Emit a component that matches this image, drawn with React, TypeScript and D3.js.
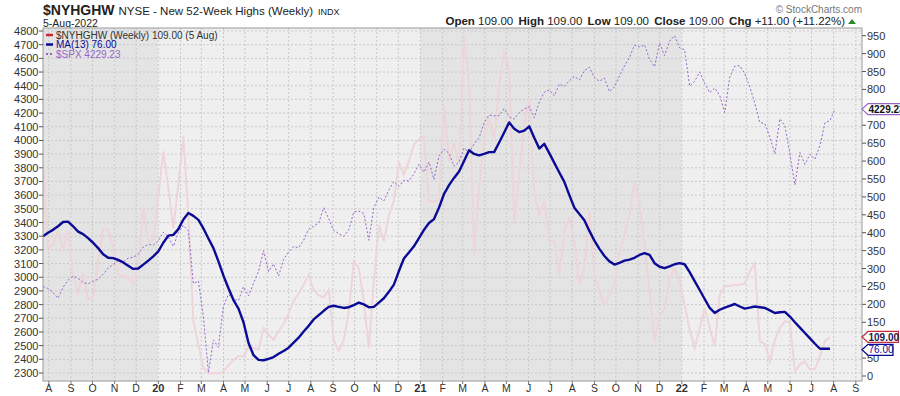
import * as d3 from 'd3'

// weekly closes, first bar = week ending 2 Aug 2019
const firstWeek = new Date(2019, 7, 2)
const lastWeek = new Date(2022, 7, 5)

const spx = [
  2932.05, 2918.65, 2888.68, 2847.11, 2926.46, 2978.71, 3007.39, 2992.07, 2961.79, 2952.01,
  2970.27, 2986.2, 3022.55, 3066.91, 3093.08, 3120.46, 3110.29, 3140.98, 3145.91, 3168.8,
  3221.22, 3240.02,
  3234.85, 3265.35, 3329.62, 3295.47, 3225.52, 3327.71, 3380.16, 3337.75, 2954.22, 2972.37,
  2711.02, 2304.92, 2541.47, 2488.65, 2789.82, 2874.56, 2836.74, 2830.71, 2929.8, 2863.7,
  2955.45, 3044.31, 3193.93, 3041.31, 3097.74, 3009.05, 3130.01, 3185.04, 3224.73, 3215.63,
  3271.12, 3351.28, 3372.85, 3397.16, 3508.01, 3426.96, 3340.97, 3319.47, 3298.46, 3348.44,
  3477.13, 3483.81, 3465.39, 3269.96, 3509.44, 3585.15, 3557.54, 3638.35, 3699.12, 3663.46,
  3709.41, 3703.06, 3756.07,
  3824.68, 3768.25, 3841.47, 3714.24, 3886.83, 3934.83, 3906.71, 3811.15, 3841.94, 3943.34,
  3913.1, 3974.54, 4019.87, 4128.8, 4185.47, 4180.17, 4181.17, 4232.6, 4173.85, 4155.86,
  4204.11, 4229.89, 4247.44, 4166.45, 4280.7, 4352.34, 4369.55, 4327.16, 4411.79, 4395.26,
  4436.52, 4468.0, 4441.67, 4509.37, 4535.43, 4458.58, 4432.99, 4455.48, 4357.04, 4391.34,
  4471.37, 4544.9, 4605.38, 4697.53, 4682.85, 4697.96, 4594.62, 4538.43, 4712.02, 4620.64,
  4725.79, 4766.18,
  4677.03, 4662.85, 4397.94, 4431.85, 4500.53, 4418.64, 4348.87, 4384.65, 4328.87, 4204.31,
  4463.12, 4543.06, 4545.86, 4488.28, 4392.59, 4271.78, 4131.93, 4123.34, 4023.89, 3901.36,
  4158.24, 4108.54, 3900.86, 3674.84, 3911.74, 3825.33, 3899.38, 3863.16, 3961.63, 4130.29,
  4145.19, 4229.23,
]

const nyhghw = [
  600, 357, 366, 404, 353, 404, 283, 232, 288, 213,
  222, 320, 408, 408, 360, 283, 278, 275, 255, 310,
  469, 376, 381, 500, 627, 525, 413, 534, 669, 450,
  153, 87, 22, 8, 8, 8, 12, 30, 45, 55,
  55, 80, 78, 73, 134, 115, 101, 125, 145, 175,
  210, 230, 255, 283, 240, 225, 220, 241, 100, 70,
  100, 180, 320, 301, 208, 78, 264, 422, 376, 450,
  488, 595, 562, 600, 646, 660, 669, 488, 488, 490,
  753, 600, 650, 590, 948, 822, 339, 525, 664, 720,
  664, 809, 911, 850, 427, 562, 700, 776, 515, 450,
  488, 380, 376, 283, 404, 441, 376, 255, 301, 460,
  283, 236, 199, 227, 255, 348, 394, 450, 543, 478,
  367, 236, 97, 170, 185, 270, 301, 264, 199, 130,
  78, 134, 190, 134, 83, 227, 250, 252, 255, 255,
  258, 292, 315, 97, 90, 41, 101, 134, 153, 150,
  13, 32, 41, 18, 20, 55, 98, 109,
]

const ma13 = [
  390, 400, 408, 418, 430, 431, 418, 403, 396, 385,
  372, 357, 340, 330, 329, 324, 317, 308, 299, 300,
  311, 322, 334, 348, 372, 392, 394, 410, 437, 455,
  447, 436, 412, 384, 357, 320, 280, 245, 212, 188,
  150, 92, 58, 45, 44, 48, 53, 62, 70, 79,
  93, 107, 124, 140, 158, 170, 182, 193, 196, 193,
  190, 192, 198, 205, 200, 192, 193, 205, 217, 235,
  255, 293, 328, 345, 362, 385, 408, 427, 438, 470,
  508, 533, 553, 571, 600, 630, 620, 616, 620, 625,
  625, 652, 680, 708, 690, 681, 685, 697, 665, 635,
  648, 622, 595, 568, 542, 505, 470, 452, 435, 405,
  378, 355, 335, 320, 311, 316, 322, 325, 330, 338,
  343, 338, 315, 305, 301, 306, 312, 315, 312, 290,
  265, 240, 215, 190, 176, 185, 191, 196, 201, 194,
  188, 191, 194, 192, 190, 183, 176, 178, 179, 166,
  150, 135, 120, 105, 90, 76, 76, 76,
]

const leftTicks = d3.range(2300, 4801, 100)
const rightTicks = d3.range(0, 951, 50)
const monthLetters = ['J', 'F', 'M', 'A', 'M', 'J', 'J', 'A', 'S', 'O', 'N', 'D']

const font = 'Liberation Sans, Arial, sans-serif'
const pinkCol = '#eed5d9'
const navyCol = '#0a0a96'
const purpleCol = '#9464c8'
const redCol = '#c8283c'

function Tag({ y, text, stroke, color, bold, x1 }: { y: number; text: string; stroke: string; color: string; bold?: boolean; x1: number }) {
  const x0 = 862
  return (
    <g>
      <path
        d={`M${x0},${y} L${x0 + 6},${y - 5.5} L${x1},${y - 5.5} L${x1},${y + 5.5} L${x0 + 6},${y + 5.5} Z`}
        fill="#fff"
        stroke={stroke}
        strokeWidth={1.2}
      />
      <text x={x0 + 6.5} y={y + 3.6} fontSize={10} fontWeight={bold ? 'bold' : 'normal'} fill={color} fontFamily={font}>
        {text}
      </text>
    </g>
  )
}

export default function App() {
  const left = 43
  const right = 862
  const top = 28
  const bottom = 381

  const dates = spx.map((_, i) => d3.timeDay.offset(firstWeek, i * 7))
  const x = d3.scaleTime().domain([firstWeek, lastWeek]).range([43, 830])
  const yL = d3.scaleLinear().domain([2300, 4800]).range([373, 31])
  const yR = d3.scaleLinear().domain([0, 950]).range([376, 35.7])

  const months = d3.timeMonth.range(new Date(2019, 7, 1), new Date(2022, 8, 2))
  const mx = (m: Date) => x(m) + 6.5
  const yearStarts = months.filter((m) => m.getMonth() === 0).map(mx)
  const bands = [
    { x0: left, x1: yearStarts[0], fill: '#e4e4e4' },
    { x0: yearStarts[0], x1: yearStarts[1], fill: '#efefef' },
    { x0: yearStarts[1], x1: yearStarts[2], fill: '#e4e4e4' },
    { x0: yearStarts[2], x1: right, fill: '#efefef' },
  ]

  const lineR = d3
    .line<number>()
    .x((_, i) => x(dates[i]))
    .y((d) => yR(d))
  const lineL = d3
    .line<number>()
    .x((_, i) => x(dates[i]))
    .y((d) => yL(d))

  const spxTagY = yL(spx[spx.length - 1])
  const hiTagY = yR(nyhghw[nyhghw.length - 1])
  const maTagY = yR(ma13[ma13.length - 1]) + 1
  const tagYs = [spxTagY, hiTagY, maTagY]
  // the value tags cover the right axis labels behind them
  const visibleRight = rightTicks.filter((t) => tagYs.every((ty) => Math.abs(yR(t) - ty) > 7))

  return (
    <svg width={900} height={396} style={{ position: 'absolute', left: 0, top: 0, background: '#fff' }}>
      <defs>
        <clipPath id="plotclip">
          <rect x={left} y={top} width={right - left} height={bottom - top} />
        </clipPath>
      </defs>

      {/* header */}
      <text x={43} y={15} fontFamily={font} fill="#222">
        <tspan fontSize={14} fontWeight="bold">$NYHGHW</tspan>
        <tspan fontSize={11.5} dx={4}>NYSE - New 52-Week Highs (Weekly)</tspan>
        <tspan fontSize={9} dx={5}>INDX</tspan>
      </text>
      <text x={43} y={26.5} fontSize={10.5} fontFamily={font} fill="#222">
        5-Aug-2022
      </text>
      <text x={862} y={13} fontSize={10} fontFamily={font} fill="#777" textAnchor="end">
        © StockCharts.com
      </text>
      <text x={845} y={25} fontSize={11.5} fontFamily={font} fill="#222" textAnchor="end">
        <tspan fontWeight="bold">Open</tspan> 109.00 <tspan fontWeight="bold" dx={2}>High</tspan> 109.00{' '}
        <tspan fontWeight="bold" dx={2}>Low</tspan> 109.00 <tspan fontWeight="bold" dx={2}>Close</tspan> 109.00{' '}
        <tspan fontWeight="bold" dx={2}>Chg</tspan> +11.00 (+11.22%)
      </text>
      <path d="M848,24 L852,19 L856,24 Z" fill="#2a8a2a" />

      {/* plot background */}
      {bands.map((b, i) => (
        <rect key={i} x={b.x0} y={top} width={b.x1 - b.x0} height={bottom - top} fill={b.fill} />
      ))}

      {/* grid */}
      {leftTicks.map((t) => (
        <line key={'h' + t} x1={left} x2={right} y1={yL(t)} y2={yL(t)} stroke="#c9c9c9" strokeDasharray="2 2" />
      ))}
      {months.map((m, i) => (
        <line key={'v' + i} x1={mx(m)} x2={mx(m)} y1={top} y2={bottom} stroke="#c9c9c9" strokeDasharray="2 2" />
      ))}

      <g clipPath="url(#plotclip)">
        <path d={lineR(nyhghw) as string} fill="none" stroke={pinkCol} strokeWidth={2} />
        <path d={lineL(spx) as string} fill="none" stroke={purpleCol} strokeWidth={1} strokeDasharray="2 2" />
        <path d={lineR(ma13) as string} fill="none" stroke={navyCol} strokeWidth={2.4} strokeLinejoin="round" />
      </g>

      {/* frame */}
      <rect x={left} y={top} width={right - left} height={bottom - top} fill="none" stroke="#999" />

      {/* left axis */}
      {leftTicks.map((t) => (
        <g key={'l' + t}>
          <line x1={39} x2={43} y1={yL(t)} y2={yL(t)} stroke="#555" />
          <text x={38.5} y={yL(t) + 4} fontSize={11} fontFamily={font} fill="#333" textAnchor="end">
            {t}
          </text>
        </g>
      ))}

      {/* right axis */}
      {visibleRight.map((t) => (
        <g key={'r' + t}>
          <line x1={862} x2={866} y1={yR(t)} y2={yR(t)} stroke="#555" />
          <text x={867} y={yR(t) + 4} fontSize={11} fontFamily={font} fill="#333">
            {t}
          </text>
        </g>
      ))}

      {/* bottom axis */}
      {months.map((m, i) => {
        const jan = m.getMonth() === 0
        return (
          <g key={'m' + i}>
            <line x1={mx(m)} x2={mx(m)} y1={bottom} y2={bottom + 3} stroke="#777" />
            <text
              x={mx(m)}
              y={392}
              fontSize={jan ? 11 : 10.5}
              fontWeight={jan ? 'bold' : 'normal'}
              fontFamily={font}
              fill="#333"
              textAnchor="middle"
            >
              {jan ? d3.timeFormat('%y')(m) : monthLetters[m.getMonth()]}
            </text>
          </g>
        )
      })}

      {/* legend */}
      <g fontFamily={font} fontSize={10}>
        <line x1={46} x2={53} y1={35} y2={35} stroke={redCol} strokeWidth={2.5} />
        <text x={56} y={38.5} fill="#333">
          $NYHGHW (Weekly) 109.00 (5 Aug)
        </text>
        <line x1={46} x2={53} y1={44.5} y2={44.5} stroke={navyCol} strokeWidth={2.5} />
        <text x={56} y={48} fill={navyCol}>
          MA(13) 76.00
        </text>
        <line x1={46} x2={53} y1={54} y2={54} stroke={purpleCol} strokeWidth={2} strokeDasharray="2 2" />
        <text x={56} y={57.5} fill={purpleCol}>
          $SPX 4229.23
        </text>
      </g>

      {/* last value tags */}
      <Tag y={spxTagY} text="4229.23" stroke={purpleCol} color="#111" bold x1={906} />
      <Tag y={hiTagY} text="109.00" stroke={redCol} color="#1a1a50" bold x1={898.5} />
      <Tag y={maTagY} text="76.00" stroke={navyCol} color={navyCol} x1={893} />
    </svg>
  )
}
